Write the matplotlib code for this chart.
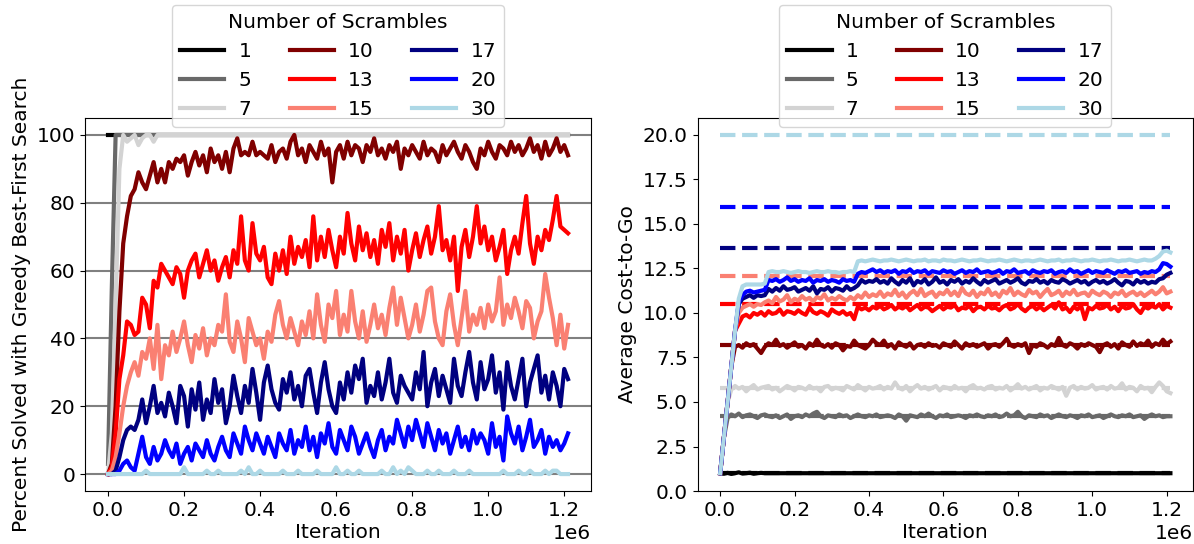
import numpy as np
import matplotlib
matplotlib.use("Agg")
import matplotlib.pyplot as plt

plt.rcParams['font.size'] = 14.5

# iteration grid shared by all curves
iters = np.arange(0, 1210001, 10000)

scrambles = [1, 5, 7, 10, 13, 15, 17, 20, 30]
colors = ['black', 'dimgray', 'lightgray', 'maroon', 'red', 'salmon', 'navy', 'blue', 'lightblue']

# ---- left: percent solved with greedy best-first search ----
solved_1 = [100] * 122
solved_5 = [3, 55] + [100] * 120
solved_7 = [0, 12, 50, 90, 100, 98, 99, 100, 97, 99, 100, 100, 98, 100] + [100] * 108
solved_10 = [0, 3, 20, 48, 68, 76, 82, 84, 89, 86, 84, 88, 92, 86, 90, 86, 92, 90, 93, 92,
             94, 88, 92, 95, 91, 94, 89, 96, 92, 94, 90, 95, 89, 96, 99, 94, 95, 94, 98, 94,
             95, 94, 93, 97, 92, 95, 96, 93, 98, 100, 94, 96, 92, 97, 95, 93, 98, 94, 96, 86,
             95, 97, 93, 98, 94, 97, 96, 92, 97, 95, 99, 94, 96, 93, 97, 95, 98, 90, 96, 94,
             97, 95, 93, 98, 94, 96, 95, 92, 97, 94, 96, 98, 95, 93, 97, 95, 92, 90, 96, 94,
             98, 95, 93, 97, 96, 94, 98, 95, 97, 94, 96, 99, 95, 97, 93, 98, 94, 96, 99, 95,
             97, 94]
solved_13 = [0, 2, 12, 28, 35, 45, 44, 41, 42, 52, 50, 43, 57, 55, 62, 60, 58, 56, 61, 59,
             52, 60, 63, 65, 58, 62, 66, 60, 63, 57, 61, 64, 58, 66, 62, 76, 63, 60, 74, 65,
             63, 67, 58, 56, 65, 60, 66, 59, 70, 62, 67, 64, 69, 61, 76, 63, 70, 64, 72, 66,
             61, 70, 65, 77, 68, 63, 73, 66, 71, 64, 69, 62, 72, 67, 74, 63, 70, 65, 72, 60,
             66, 71, 64, 69, 73, 65, 70, 79, 66, 69, 63, 70, 54, 67, 72, 64, 70, 79, 68, 73,
             66, 70, 63, 67, 72, 59, 66, 70, 65, 74, 82, 68, 62, 70, 66, 72, 69, 75, 82, 73,
             72, 71]
solved_15 = [0, 1, 5, 12, 20, 26, 30, 33, 29, 36, 34, 40, 31, 44, 28, 38, 35, 42, 36, 40,
             45, 38, 33, 41, 37, 43, 35, 40, 38, 44, 42, 53, 39, 36, 45, 40, 33, 46, 42, 38,
             40, 34, 42, 39, 47, 51, 44, 40, 46, 42, 38, 45, 41, 48, 40, 53, 44, 39, 50, 46,
             54, 41, 47, 42, 54, 45, 40, 48, 39, 44, 50, 43, 47, 41, 49, 55, 44, 52, 46, 40,
             44, 50, 42, 47, 54, 55, 45, 40, 38, 48, 53, 44, 38, 46, 54, 42, 47, 44, 49, 43,
             50, 45, 48, 58, 44, 50, 46, 52, 48, 43, 51, 49, 40, 45, 48, 59, 52, 46, 38, 47,
             37, 44]
solved_17 = [0, 0, 1, 5, 10, 13, 14, 13, 16, 22, 15, 20, 26, 18, 21, 17, 24, 20, 15, 26,
             23, 14, 25, 19, 27, 16, 22, 18, 28, 21, 25, 15, 20, 29, 23, 18, 26, 21, 31, 24,
             16, 27, 32, 25, 21, 19, 28, 24, 30, 22, 26, 20, 29, 31, 24, 18, 27, 33, 25, 20,
             18, 27, 22, 30, 24, 32, 28, 34, 21, 26, 23, 30, 22, 27, 34, 24, 21, 29, 26, 24,
             22, 30, 25, 36, 20, 27, 31, 23, 29, 25, 21, 34, 26, 23, 30, 36, 27, 22, 33, 25,
             28, 35, 24, 30, 19, 33, 26, 22, 28, 34, 20, 27, 31, 35, 24, 29, 22, 30, 26, 20,
             31, 28]
solved_20 = [0, 0, 0, 1, 3, 4, 2, 1, 6, 11, 5, 3, 8, 4, 6, 10, 7, 5, 9, 3,
             6, 8, 4, 9, 7, 5, 10, 6, 4, 8, 11, 7, 5, 12, 9, 6, 14, 10, 7, 12,
             9, 6, 11, 8, 5, 12, 9, 7, 13, 6, 10, 8, 14, 7, 11, 5, 12, 9, 15, 8,
             6, 13, 10, 7, 14, 11, 6, 9, 12, 8, 5, 10, 13, 7, 11, 9, 16, 12, 8, 14,
             10, 16, 12, 8, 15, 11, 7, 13, 9, 12, 6, 10, 14, 8, 11, 7, 13, 9, 12, 10,
             6, 15, 8, 11, 4, 17, 12, 9, 14, 7, 11, 16, 8, 10, 13, 6, 11, 8, 10, 7,
             9, 12]
solved_30 = [0, 0, 0, 0, 0, 0, 0, 0, 0, 0, 1, 0, 0, 0, 0, 0, 0, 0, 0, 0,
             2, 0, 0, 0, 0, 0, 1, 0, 0, 1, 0, 0, 0, 0, 0, 1, 0, 2, 0, 0,
             1, 0, 0, 0, 0, 0, 1, 0, 0, 0, 1, 0, 0, 0, 0, 1, 0, 0, 0, 0,
             2, 0, 0, 1, 0, 0, 1, 0, 0, 0, 0, 0, 1, 0, 0, 2, 0, 1, 0, 2,
             1, 0, 0, 0, 1, 0, 0, 1, 0, 0, 0, 1, 0, 0, 0, 1, 0, 0, 0, 0,
             0, 0, 0, 0, 1, 0, 0, 0, 1, 0, 0, 1, 0, 0, 0, 1, 0, 1, 1, 0,
             0, 0]

# ---- right: average cost-to-go ----
ctg_1 = [1.0, 0.97, 1.02, 0.96, 1.0, 1.05, 0.98, 1.0, 1.03, 0.97, 1.0, 1.02] + [1.0] * 110
ctg_5 = [1.0, 3.0, 4.1, 4.3, 4.2, 4.35, 4.15, 4.25, 4.3, 4.2, 4.1, 4.25,
         4.3, 4.2, 4.15, 4.25, 4.1, 4.2, 4.3, 4.05, 4.2, 4.25, 4.15, 4.3, 4.2, 4.35, 4.45, 4.2, 4.1, 4.25,
         4.2, 4.15, 4.3, 4.2, 4.25, 4.1, 4.2, 4.3, 4.2, 4.15, 4.25, 4.2,
         4.3, 4.15, 4.2, 4.25, 4.2, 4.1, 4.3, 4.2, 3.95, 4.25, 4.2, 4.15, 4.3, 4.2, 4.35, 4.2, 4.1, 4.25,
         4.2, 4.3, 4.15, 4.2, 4.25, 4.2, 4.1, 4.25, 4.2, 4.3, 4.2, 4.15,
         4.25, 4.2, 4.3, 4.15, 4.2, 4.35, 4.2, 4.25, 4.45, 4.2, 4.1, 4.25, 4.2, 4.15, 4.3, 4.2, 4.25, 4.1,
         4.2, 4.3, 4.2, 4.15, 4.25, 4.2, 4.1, 4.25, 4.2, 4.3, 4.15, 4.2,
         4.25, 4.1, 4.2, 4.3, 4.2, 4.15, 4.25, 4.2, 4.3, 4.15, 4.2, 4.25, 4.05, 4.2, 4.3, 4.2, 4.25, 4.15,
         4.2, 4.2]
ctg_7 = [1.0, 3.0, 5.0, 5.7, 5.9, 5.75, 5.85, 5.6, 5.8, 5.95, 5.7, 5.8,
         5.85, 5.9, 5.7, 5.8, 5.6, 5.75, 5.9, 5.8, 5.65, 5.85, 5.8, 5.7, 5.9, 5.75, 5.8, 5.6, 5.85, 5.9,
         5.7, 5.8, 5.75, 5.65, 5.9, 5.8, 5.7, 5.95, 5.8, 5.65, 5.85, 5.75,
         5.8, 5.9, 5.7, 5.85, 5.75, 6.1, 5.8, 5.7, 5.9, 5.6, 5.8, 5.95, 5.75, 5.85, 5.7, 5.8, 5.9, 5.65,
         5.85, 5.8, 5.7, 5.9, 5.75, 5.8, 5.6, 5.85, 5.95, 5.75, 5.8, 5.7,
         5.85, 5.9, 5.7, 5.8, 5.75, 5.9, 5.65, 5.8, 6.0, 5.75, 5.85, 5.7, 5.8, 5.9, 5.65, 5.8, 5.75, 5.9,
         5.8, 5.7, 5.85, 5.35, 5.8, 5.9, 5.7, 5.85, 5.75, 5.8, 5.95, 5.7,
         5.8, 5.85, 5.7, 5.9, 5.75, 5.8, 6.05, 5.7, 5.85, 5.8, 5.6, 5.9, 5.75, 5.8, 5.55, 5.85, 6.1, 5.9,
         5.6, 5.5]
ctg_10 = [1.0, 3.0, 5.0, 7.0, 8.1, 8.2, 8.05, 8.3, 8.15, 8.25, 8.0, 7.75,
          8.1, 8.3, 8.2, 8.5, 8.15, 8.25, 8.05, 8.2, 8.35, 8.1, 8.2, 8.0, 8.3, 8.15, 8.5, 8.2, 8.1, 8.25,
          8.05, 8.3, 8.2, 7.9, 8.15, 8.1, 8.45, 8.2, 8.1, 8.0, 8.2, 8.5,
          8.3, 8.2, 8.45, 8.1, 8.25, 8.0, 8.35, 8.2, 8.1, 8.3, 8.0, 8.2, 8.25, 8.1, 8.3, 8.15, 8.2, 8.05,
          8.3, 8.2, 8.1, 8.4, 8.2, 8.0, 8.3, 8.15, 8.25, 8.1, 8.2, 8.3,
          8.0, 8.2, 8.25, 8.1, 8.3, 8.55, 8.2, 8.1, 8.25, 8.15, 8.3, 7.75, 8.2, 8.1, 8.3, 8.2, 8.05, 8.25,
          8.15, 8.6, 8.2, 8.1, 8.3, 8.2, 8.0, 8.25, 8.15, 8.3, 8.2, 8.1,
          7.8, 8.2, 8.3, 8.1, 8.25, 8.0, 8.35, 8.2, 8.1, 8.4, 8.15, 8.3, 8.2, 8.45, 8.1, 8.3, 8.2, 8.5,
          8.25, 8.4]
ctg_13 = [1.0, 3.0, 5.0, 7.0, 9.0, 9.4, 9.8, 9.9, 9.75, 10.0, 9.9, 10.05,
          9.85, 10.1, 9.95, 10.0, 10.2, 9.9, 10.1, 10.05, 9.95, 10.15, 10.0, 9.9, 10.3, 10.05, 9.95, 10.1,
          10.0, 9.85, 10.2, 10.05, 9.95, 10.1, 9.9, 10.0, 9.65, 10.35, 10.2, 10.3, 10.15, 10.35,
          10.25, 10.4, 10.2, 10.3, 10.45, 10.2, 10.35, 10.25, 10.4, 10.15, 10.3, 10.45, 10.2, 10.35, 10.3,
          10.1, 10.25, 10.4, 10.2, 10.35, 10.3, 10.45, 10.15, 10.3, 10.25, 10.4, 10.1, 10.3, 10.35, 10.2,
          10.4, 10.25, 10.3, 10.15, 10.35, 10.45, 10.2, 10.3, 10.5, 10.25, 10.1, 10.3, 10.4, 10.2, 10.35,
          10.15, 10.3, 10.45, 10.25, 10.6, 10.2, 10.3, 10.05, 10.35, 10.2, 10.4, 9.65, 10.3, 10.2, 10.4,
          10.25, 10.3, 10.45, 10.2, 10.35, 10.1, 10.4, 10.25, 10.3, 10.5, 10.2, 10.0, 10.35, 10.25, 10.4,
          10.3, 10.5, 10.2, 10.4, 10.3]
ctg_15 = [1.0, 3.0, 5.0, 7.0, 9.0, 10.0, 10.3, 10.4, 10.5, 10.35, 10.5, 10.45,
          10.6, 10.7, 10.55, 10.9, 10.65, 10.75, 11.0, 10.6, 10.8, 10.7, 10.95, 10.75, 10.85, 10.65, 10.9,
          10.8, 11.05, 10.7, 10.85, 10.75, 10.95, 10.8, 10.7, 10.9, 10.75, 11.0, 10.85, 11.15, 10.9, 11.05,
          10.95, 11.2, 10.9, 11.1, 11.0, 11.3, 10.95, 11.15, 10.85, 11.1, 11.25, 11.0, 11.35, 10.95, 11.1,
          11.2, 10.9, 11.15, 11.05, 11.3, 11.0, 11.2, 10.95, 11.4, 11.1, 11.0, 11.25, 10.9, 11.15, 11.05,
          11.35, 11.0, 11.15, 10.9, 11.25, 11.1, 11.4, 11.0, 11.2, 11.05, 10.95, 11.3, 11.1, 11.2, 10.9,
          11.15, 11.35, 11.0, 11.1, 11.25, 10.95, 11.2, 11.05, 11.3, 11.0, 11.1, 11.15, 10.95, 11.25, 11.1,
          11.0, 11.2, 11.1, 10.9, 11.15, 11.05, 11.25, 10.95, 11.1, 11.2, 11.0, 11.15, 10.95, 11.1, 11.25,
          11.05, 11.2, 11.45, 11.1, 11.2]
ctg_17 = [1.0, 3.0, 5.0, 7.0, 9.0, 10.5, 10.8, 10.9, 11.0, 10.85, 11.0, 10.95,
          11.0, 11.35, 11.2, 11.4, 11.25, 11.5, 11.3, 11.35, 11.45, 11.2, 11.3, 11.4, 11.25, 11.5, 11.1,
          11.35, 11.3, 11.45, 11.2, 11.4, 11.35, 11.25, 11.5, 11.3, 11.4, 11.55, 11.85, 11.7, 11.8, 11.75,
          11.9, 11.7, 11.8, 11.65, 11.95, 11.75, 11.6, 11.85, 11.7, 11.95, 11.55, 11.8, 11.7, 11.9, 11.6,
          11.75, 12.0, 11.7, 11.8, 11.6, 11.85, 11.75, 11.9, 11.65, 11.8, 11.7, 11.95, 11.75, 11.6, 11.85,
          11.7, 11.8, 11.9, 11.65, 11.75, 11.85, 11.7, 11.8, 11.95, 11.7, 11.6, 11.8, 11.75, 11.9, 11.7,
          11.8, 11.65, 11.85, 11.75, 11.7, 11.9, 11.8, 11.65, 11.75, 11.85, 11.7, 11.8, 11.6, 11.75, 11.85,
          11.7, 11.8, 11.65, 11.75, 11.9, 11.7, 11.55, 11.8, 11.75, 11.6, 11.85, 11.7, 11.8, 11.65, 11.75,
          11.7, 11.9, 11.95, 12.15, 12.25]
ctg_20 = [1.0, 3.0, 5.0, 7.0, 9.0, 10.6, 11.0, 11.2, 11.25, 11.15, 11.2, 11.25,
          11.3, 11.85, 11.8, 11.9, 11.75, 11.85, 12.0, 11.8, 11.9, 11.75, 11.85, 11.8, 11.95, 11.7, 11.85,
          11.8, 11.9, 11.75, 11.85, 11.8, 11.7, 11.9, 11.8, 11.85, 11.75, 12.2, 12.3, 12.25, 12.35, 12.45,
          12.3, 12.4, 12.25, 12.35, 12.3, 12.4, 12.2, 12.35, 12.3, 12.45, 12.25, 12.35, 12.3, 12.4, 12.2,
          12.35, 12.3, 12.25, 12.4, 12.3, 12.35, 12.2, 12.3, 12.4, 12.25, 12.35, 12.3, 12.45, 12.25, 12.3,
          12.35, 12.25, 12.3, 12.4, 12.2, 12.35, 12.3, 12.45, 12.25, 12.3, 12.35, 12.2, 12.4, 12.3, 12.25,
          12.35, 12.3, 12.4, 12.2, 12.3, 12.35, 12.25, 12.45, 12.3, 12.35, 12.2, 12.3, 12.4, 12.25, 12.35,
          12.3, 12.25, 12.4, 12.3, 12.2, 12.35, 12.3, 12.4, 12.25, 12.3, 12.35, 12.2, 12.3, 12.25, 12.35,
          12.3, 12.45, 12.8, 12.75, 12.6]
ctg_30 = [1.0, 3.0, 5.0, 7.0, 9.0, 10.8, 11.5, 11.6, 11.6, 11.6, 11.6, 11.6,
          11.65, 12.3, 12.35, 12.3, 12.3, 12.35, 12.3, 12.25, 12.3, 12.35, 12.3, 12.3, 12.25, 12.3, 12.35,
          12.3, 12.3, 12.35, 12.3, 12.3, 12.25, 12.3, 12.3, 12.35, 12.3, 12.9, 12.95, 12.9, 12.95, 13.0,
          12.95, 12.9, 12.95, 12.95, 13.0, 12.95, 12.9, 12.95, 13.0, 12.95, 12.9, 12.95, 12.95, 13.0, 12.9,
          12.95, 12.95, 12.9, 13.0, 12.95, 12.95, 12.9, 12.95, 13.0, 12.95, 12.9, 12.95, 12.95, 13.0, 12.95,
          12.9, 12.95, 12.95, 13.0, 12.95, 12.9, 12.95, 13.0, 12.95, 12.9, 12.95, 12.95, 12.9, 12.95, 13.0,
          12.95, 12.9, 12.95, 12.95, 13.0, 12.9, 12.95, 12.95, 13.0, 12.95, 12.9, 12.95, 12.95, 13.0, 12.95,
          12.9, 12.95, 12.95, 13.0, 12.95, 12.9, 12.95, 12.95, 13.0, 12.95, 12.9, 12.95, 13.0, 12.95, 12.95,
          13.05, 13.2, 13.45, 13.5, 13.4]

# reference (true) average cost-to-go per scramble depth, drawn dashed
ctg_true = [1.0, 4.24, 5.77, 8.18, 10.5, 12.08, 13.65, 15.96, 20.0]

solved = [solved_1, solved_5, solved_7, solved_10, solved_13, solved_15, solved_17, solved_20, solved_30]
ctg = [ctg_1, ctg_5, ctg_7, ctg_10, ctg_13, ctg_15, ctg_17, ctg_20, ctg_30]

fig = plt.figure(figsize=(11.94, 5.44), dpi=100)
ax1 = fig.add_axes([0.0712, 0.0974, 0.4238, 0.6857])
ax2 = fig.add_axes([0.5843, 0.0974, 0.4148, 0.6857])

for n, c, vals in zip(scrambles, colors, solved):
    ax1.plot(iters, vals, color=c, lw=3, label=str(n))
ax1.yaxis.grid(True, color='gray', lw=1.5)
ax1.set_ylabel('Percent Solved with Greedy Best-First Search')
ax1.set_xlabel('Iteration', labelpad=2)

for n, c, vals, ref in zip(scrambles, colors, ctg, ctg_true):
    ax2.plot(iters, vals, color=c, lw=3, label=str(n))
    ax2.plot([iters[0], iters[-1]], [ref, ref], '--', color=c, lw=3)
ax2.set_ylim(bottom=0)
ax2.set_ylabel('Average Cost-to-Go')
ax2.set_xlabel('Iteration', labelpad=2)

for ax in (ax1, ax2):
    ax.legend(title='Number of Scrambles', ncol=3, loc='upper center',
              bbox_to_anchor=(0.5, 1.303), borderaxespad=0,
              handlelength=2.2, handletextpad=0.7, columnspacing=1.9)

fig.savefig('out.png', dpi=100)
